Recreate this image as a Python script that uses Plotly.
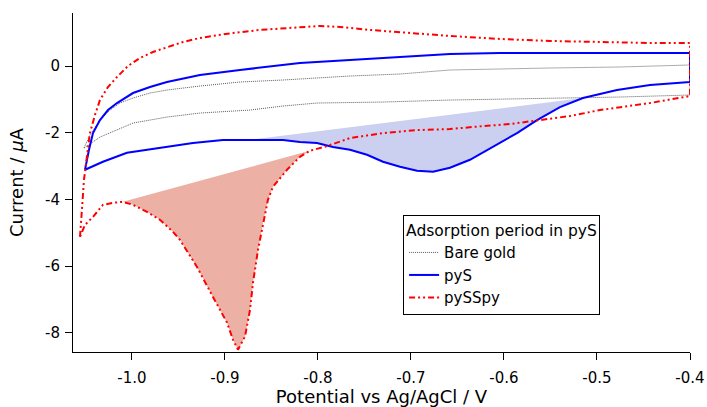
import plotly.graph_objects as go

# ---- data (potential V vs Ag/AgCl, current uA) ----
bare_v = [-1.0516, -1.0452, -1.0344, -1.0237, -1.0129, -0.9989, -0.9806, -0.9624, -0.9269, -0.8839,
          -0.8376, -0.7656, -0.7118, -0.6581, -0.5505, -0.4753, -0.4,
          -0.4, -0.4753, -0.5505, -0.6581, -0.7301, -0.8011, -0.8376, -0.8731, -0.9269, -0.9624,
          -0.9989, -1.0344, -1.0516]
bare_i = [-2.46, -2.07, -1.62, -1.32, -1.11, -0.96, -0.81, -0.72, -0.60, -0.48,
          -0.42, -0.30, -0.24, -0.12, -0.06, -0.03, 0.03,
          -0.87, -0.93, -0.96, -1.02, -1.08, -1.11, -1.20, -1.32, -1.41, -1.53,
          -1.71, -2.13, -2.46]

pys_v = [-1.0505, -1.0484, -1.0462, -1.0419, -1.0344, -1.0258, -1.0161, -0.9989, -0.9806, -0.9624,
         -0.9269, -0.8839, -0.8194, -0.7656, -0.7118, -0.6581, -0.6043, -0.4968, -0.4,
         -0.4, -0.443, -0.4785, -0.5, -0.5151, -0.5398, -0.5645, -0.586, -0.6118, -0.6366,
         -0.6581, -0.6763, -0.6935, -0.7118, -0.7301, -0.7473, -0.7656, -0.7839, -0.8011,
         -0.8194, -0.8376, -0.8763, -0.9022, -0.9344, -0.9699, -1.0054, -1.0312, -1.0505]
pys_i = [-3.11, -2.81, -2.51, -2.01, -1.62, -1.32, -1.11, -0.81, -0.63, -0.48,
         -0.27, -0.12, 0.09, 0.18, 0.27, 0.36, 0.39, 0.39, 0.39,
         -0.48, -0.57, -0.72, -0.87, -0.96, -1.23, -1.62, -2.01, -2.43, -2.81,
         -3.05, -3.17, -3.14, -3.02, -2.87, -2.66, -2.51, -2.43, -2.31,
         -2.28, -2.22, -2.22, -2.22, -2.31, -2.46, -2.60, -2.87, -3.11]

pyss_v = [-1.0559, -1.0548, -1.0538, -1.0516, -1.0484, -1.0452, -1.0398, -1.0344, -1.0258, -1.0161,
          -1.0043, -0.9914, -0.9774, -0.9624, -0.9452, -0.9269, -0.8914, -0.8624, -0.8301, -0.7978,
          -0.7763, -0.7441, -0.7011, -0.6581, -0.6043, -0.5505, -0.4968, -0.443, -0.4,
          -0.4, -0.443, -0.4968, -0.529, -0.5613, -0.5935, -0.6226, -0.6581, -0.6935, -0.7301,
          -0.7656, -0.7903, -0.8086, -0.8194, -0.8333, -0.8484, -0.8538, -0.8591, -0.8645, -0.8699,
          -0.8731, -0.8785, -0.886, -0.8914, -0.8978, -0.9129, -0.9301, -0.9484, -0.9559, -0.9699,
          -0.9839, -0.9989, -1.0097, -1.0204, -1.0312, -1.0419, -1.0505, -1.0559]
pyss_i = [-5.12, -4.76, -4.31, -3.41, -2.66, -2.01, -1.47, -1.02, -0.63, -0.33,
          0.00, 0.24, 0.42, 0.57, 0.72, 0.84, 0.99, 1.08, 1.14, 1.20,
          1.17, 1.08, 0.99, 0.90, 0.81, 0.75, 0.72, 0.69, 0.69,
          -0.90, -1.11, -1.32, -1.50, -1.62, -1.74, -1.80, -1.89, -1.92, -2.01,
          -2.16, -2.40, -2.54, -2.72, -3.11, -3.62, -4.01, -4.70, -5.51, -6.50,
          -7.31, -8.11, -8.50, -8.20, -7.69, -6.92, -6.02, -5.21, -4.97, -4.61,
          -4.37, -4.16, -4.07, -4.10, -4.16, -4.52, -4.76, -5.12]

# baseline limits (potential) for the shaded peaks
pys_peak_lim = [-0.8763, -0.5]
pyss_peak_lim = [-1.0097, -0.7903]

x_tick_vals = [-1.0, -0.9, -0.8, -0.7, -0.6, -0.5, -0.4]
x_tick_text = ["-1.0", "-0.9", "-0.8", "-0.7", "-0.6", "-0.5", "-0.4"]
y_tick_vals = [0, -2, -4, -6, -8]
y_tick_text = ["0", "-2", "-4", "-6", "-8"]

names = ["Bare gold", "pyS", "pySSpy"]


def return_branch(v, i, lim):
    """points of the return (second-half) branch that lie within lim"""
    n = len(v) // 2
    pv, pi = [], []
    for a, b in zip(v[n:], i[n:]):
        if lim[0] - 1e-9 <= a <= lim[1] + 1e-9:
            pv.append(a)
            pi.append(b)
    return pv, pi


fig = go.Figure()

# shaded peaks (polygon closed by straight baseline)
fv, fi = return_branch(pys_v, pys_i, pys_peak_lim)
fig.add_trace(go.Scatter(x=fv, y=fi, mode="lines", fill="toself",
                         fillcolor="rgb(203,208,240)", line=dict(width=0),
                         showlegend=False, hoverinfo="skip"))
fv, fi = return_branch(pyss_v, pyss_i, pyss_peak_lim)
fig.add_trace(go.Scatter(x=fv, y=fi, mode="lines", fill="toself",
                         fillcolor="rgb(236,176,164)", line=dict(width=0),
                         showlegend=False, hoverinfo="skip"))

fig.add_trace(go.Scatter(x=bare_v, y=bare_i, mode="lines", name=names[0],
                         line=dict(color="rgb(90,90,90)", width=1, dash="1px,1px")))
fig.add_trace(go.Scatter(x=pys_v, y=pys_i, mode="lines", name=names[1],
                         line=dict(color="rgb(0,0,255)", width=2)))
fig.add_trace(go.Scatter(x=pyss_v, y=pyss_i, mode="lines", name=names[2],
                         line=dict(color="rgb(255,0,0)", width=2,
                                   dash="6px,3px,2px,3px,2px,3px")))

font_family = "DejaVu Sans, Verdana, sans-serif"
fig.update_layout(
    width=707, height=407,
    margin=dict(l=73, r=17, t=13, b=55, autoexpand=False),
    paper_bgcolor="white", plot_bgcolor="white",
    font=dict(family=font_family, size=15, color="black"),
    showlegend=True,
    legend=dict(
        title=dict(text="Adsorption period in pyS", font=dict(size=15.5)),
        x=0.535, y=0.404, xanchor="left", yanchor="top",
        bordercolor="black", borderwidth=1, bgcolor="white",
        font=dict(size=15), itemwidth=30, tracegroupgap=0,
    ),
    xaxis=dict(
        range=[-1.0634, -0.4], showgrid=False, zeroline=False,
        showline=True, linecolor="black", linewidth=1,
        ticks="outside", ticklen=7, tickcolor="black",
        tickvals=x_tick_vals, ticktext=x_tick_text,
        ticklabelstandoff=5, automargin=False,
        title=dict(text="Potential vs Ag/AgCl / V", standoff=12),
    ),
    yaxis=dict(
        range=[-8.57, 1.588], showgrid=False, zeroline=False,
        showline=True, linecolor="black", linewidth=1,
        ticks="outside", ticklen=7, tickcolor="black",
        tickvals=y_tick_vals, ticktext=y_tick_text,
        ticklabelstandoff=2, automargin=False,
        title=dict(text="Current / <i>μ</i>A", standoff=16),
    ),
)

fig.write_html("out.html")
